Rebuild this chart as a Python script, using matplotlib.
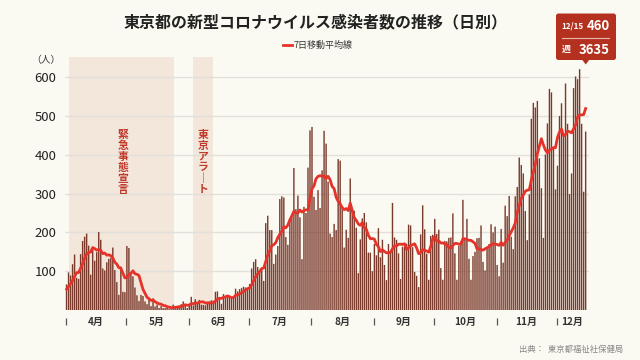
import matplotlib
matplotlib.use("Agg")
import matplotlib.pyplot as plt
import matplotlib.transforms as mtransforms
from matplotlib.patches import FancyBboxPatch, Polygon
import numpy as np

plt.rcParams['font.family'] = ['Noto Sans CJK JP', 'DejaVu Sans']

# daily new cases in Tokyo, 2020-04-01 .. 2020-12-15
apr = [66, 97, 89, 118, 143, 83, 80, 144, 178, 189, 197, 166, 91, 161, 127,
       149, 201, 181, 107, 102, 123, 132, 134, 161, 103, 72, 39, 112, 47, 46]
may = [165, 160, 91, 87, 58, 38, 23, 39, 36, 22, 15, 28, 10, 30, 9, 14, 5, 10,
       5, 5, 11, 3, 2, 14, 8, 10, 11, 15, 22, 14, 5]
jun = [13, 34, 12, 28, 20, 26, 14, 13, 12, 18, 22, 25, 24, 47, 48, 27, 16, 41,
       35, 39, 35, 29, 31, 55, 48, 54, 57, 60, 58, 54]
jul = [67, 107, 124, 131, 111, 102, 106, 75, 224, 243, 206, 206, 119, 143, 165,
       286, 293, 290, 188, 168, 237, 238, 366, 260, 295, 239, 131, 266, 250,
       367, 463]
aug = [472, 292, 258, 309, 263, 360, 462, 429, 331, 197, 188, 222, 206, 389,
       385, 260, 161, 207, 186, 339, 258, 256, 212, 95, 182, 236, 250, 226, 148,
       148, 100]
sep = [170, 141, 211, 136, 181, 116, 77, 170, 149, 276, 187, 181, 146, 80, 163,
       163, 171, 220, 218, 162, 98, 88, 59, 195, 270, 208, 145, 78, 191, 194]
oct_ = [235, 196, 207, 108, 78, 178, 177, 186, 187, 249, 146, 78, 166, 177, 284,
        185, 235, 132, 78, 139, 150, 185, 186, 218, 124, 102, 158, 170, 221,
        200, 215]
nov = [116, 87, 209, 122, 269, 242, 294, 189, 157, 293, 317, 393, 374, 352, 255,
       180, 298, 493, 534, 522, 539, 391, 314, 186, 401, 481, 570, 561, 418, 311]
dec = [372, 500, 533, 449, 584, 480, 299, 352, 572, 602, 595, 621, 480, 305, 460]
# last days of March, only used for the first moving-average points
mar_tail = [47, 40, 63, 68, 13, 78]

months = ['4月', '5月', '6月', '7月', '8月', '9月', '10月', '11月', '12月']
yticks = [100, 200, 300, 400, 500, 600]

daily = np.array(apr + may + jun + jul + aug + sep + oct_ + nov + dec)
avg7 = np.convolve(np.array(mar_tail + list(daily)), np.ones(7) / 7, 'valid')
days = np.arange(len(daily))
lengths = [len(m) for m in [apr, may, jun, jul, aug, sep, oct_, nov, dec]]
starts = np.concatenate([[0], np.cumsum(lengths)[:-1]])

bg = '#fbfaf2'
fig = plt.figure(figsize=(6.4, 3.6), dpi=100, facecolor=bg)
ax = fig.add_axes([0.1008, 0.1389, 0.819, 0.7036])
ax.set_facecolor(bg)

# shaded periods
ax.axvspan(1.2, 53.3, color='#f3e6db', lw=0, zorder=0)
ax.axvspan(62.8, 73.0, color='#f3e6db', lw=0, zorder=0)
ax.text(27.9, 381, '\n'.join('緊急事態宣言'), color='#c0392b', fontsize=7.8,
        fontweight='bold', ha='center', va='center', linespacing=1.1)
ax.text(67.9, 381, '\n'.join('東京アラ｜ト'), color='#c0392b', fontsize=7.8,
        fontweight='bold', ha='center', va='center', linespacing=1.1)

for y in yticks:
    ax.axhline(y, color='#e2e0da', lw=1, zorder=1)

bars = ax.bar(days, daily, width=0.7, color='#7a3a2c', lw=0, zorder=2)
for b in bars:
    b.set_snap(False)
ax.plot(days, avg7, color='#e5332a', lw=2, zorder=3)

ax.set_xlim(-1, 259.5)
ax.set_ylim(0, 653)
ax.set_yticks(yticks)
ax.set_yticklabels([str(y) for y in yticks], fontsize=9.5, color='#222')
ax.tick_params(axis='y', length=0, pad=6)
ax.set_xticks([])
for s in ax.spines.values():
    s.set_visible(False)

# month separators and labels
ax.vlines(starts - 0.3, -38, -21, color='#555', lw=0.9, clip_on=False)
ends = np.append(starts[1:], len(daily))
for name, a, b in zip(months, starts, ends):
    ax.text((a + b) / 2 - 0.5, -31, name, ha='center', va='center',
            fontsize=7.2, fontweight='bold', color='#333')

fig.text(45.7 / 640, 1 - 60 / 360, '（人）', ha='center', va='center',
         fontsize=7, color='#333')

# title and legend
fig.text(316 / 640, 1 - 22 / 360, '東京都の新型コロナウイルス感染者数の推移（日別）',
         ha='center', va='center', fontsize=11.5, fontweight='bold', color='#222')
px = mtransforms.Affine2D().scale(1 / 640, -1 / 360).translate(0, 1) + fig.transFigure
fig.add_artist(plt.Line2D([283, 292], [45, 45], color='#e5332a', lw=2, transform=px))
fig.text(294 / 640, 1 - 45 / 360, '7日移動平均線', ha='left', va='center',
         fontsize=6.5, color='#333')

# callout box
red = '#b5311f'
fig.add_artist(FancyBboxPatch((556, 13.5), 60, 46.5, boxstyle='round,pad=0,rounding_size=2.5',
                              fc=red, ec='none', transform=px))
fig.add_artist(Polygon([[582, 59.5], [589.5, 59.5], [585.7, 64.5]], closed=True,
                       fc=red, ec='none', transform=px))
fig.add_artist(plt.Line2D([562, 609], [37.5, 37.5], color='#e8b8ae', lw=0.8, transform=px))
fig.text(561 / 640, 1 - 26 / 360, '12/15', ha='left', va='center', fontsize=5.8,
         fontweight='bold', color='white')
fig.text(610 / 640, 1 - 26 / 360, '460', ha='right', va='center', fontsize=9.5,
         fontweight='bold', color='white')
fig.text(562 / 640, 1 - 49.5 / 360, '週', ha='left', va='center', fontsize=6.5,
         fontweight='bold', color='white')
fig.text(610 / 640, 1 - 49.5 / 360, '3635', ha='right', va='center', fontsize=9.5,
         fontweight='bold', color='white')

fig.text(623 / 640, 1 - 349 / 360, '出典：  東京都福祉社保健局', ha='right', va='center',
         fontsize=6, color='#888')

fig.savefig('out.png', dpi=100, facecolor=bg)
